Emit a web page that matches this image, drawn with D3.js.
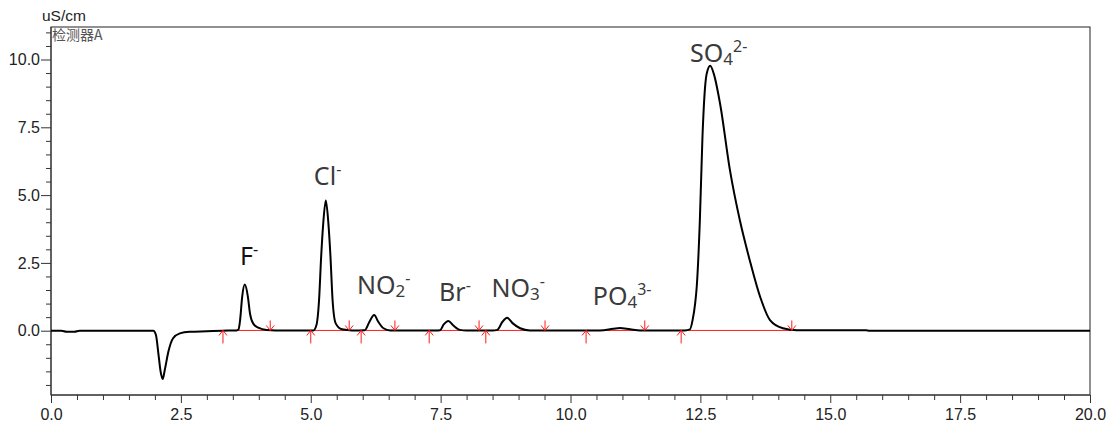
<!DOCTYPE html>
<html>
<head>
<meta charset="utf-8">
<script src="https://cdn.jsdelivr.net/npm/d3@7"></script>
<style>
  body { margin: 0; background: #fff; }
  svg { display: block; }
  .axis text { font-family: "Liberation Sans", Arial, sans-serif; font-size: 16px; fill: #222; }
  .axis path, .axis line { stroke: #333; }
</style>
</head>
<body>
<div id="chart"></div>
<script>
// chromatogram trace (time in min, signal in uS/cm)
const time = [0.0, 0.2, 0.3, 0.45, 0.55, 1.0, 1.97, 2.02, 2.07, 2.11, 2.15, 2.19, 2.26, 2.35, 2.48, 2.67, 3.0, 3.3,
  3.57, 3.61, 3.64, 3.68, 3.73, 3.79, 3.83, 3.89, 3.99, 4.15, 4.5,
  5.05, 5.11, 5.16, 5.20, 5.24, 5.29, 5.34, 5.38, 5.42, 5.48, 5.60, 5.80,
  6.04, 6.13, 6.22, 6.30, 6.40, 6.53,
  7.40, 7.49, 7.56, 7.65, 7.74, 7.87, 8.00,
  8.50, 8.59, 8.69, 8.78, 8.89, 9.03, 9.22,
  10.57, 10.82, 10.95, 11.15, 11.34,
  12.20, 12.30, 12.35, 12.40, 12.43, 12.49, 12.54, 12.59, 12.62, 12.69, 12.76, 12.88, 13.07, 13.26, 13.45, 13.65, 13.84, 14.09, 14.36,
  15.69, 15.75, 20.0];
const signal = [0, 0, -0.04, -0.04, 0, 0, 0, -0.16, -0.89, -1.51, -1.78, -1.45, -0.77, -0.28, -0.10, -0.04, -0.02, 0,
  0.01, 0.05, 0.39, 1.25, 1.70, 1.25, 0.64, 0.27, 0.11, 0.03, 0.01,
  0.01, 0.21, 1.13, 2.72, 3.95, 4.80, 3.95, 2.72, 1.13, 0.27, 0.05, 0.01,
  0.02, 0.33, 0.58, 0.33, 0.09, 0.01,
  0.01, 0.02, 0.23, 0.36, 0.20, 0.03, 0.01,
  0.01, 0.03, 0.33, 0.48, 0.27, 0.09, 0.01,
  0.01, 0.07, 0.10, 0.05, 0.01,
  0.01, 0.05, 0.39, 1.02, 1.62, 4.07, 7.13, 8.97, 9.46, 9.77, 9.46, 8.36, 5.91, 4.07, 2.60, 1.25, 0.39, 0.09, 0.02,
  0.02, 0, 0];

// integration start / end marks
const peakStart = [3.31, 5.00, 5.97, 7.28, 8.37, 10.30, 12.13];
const peakEnd   = [4.22, 5.74, 6.62, 8.24, 9.51, 11.43, 14.26];

// ion labels: main text, subscript, superscript, anchor (time, signal)
const ionMain = ["F", "Cl", "NO", "Br", "NO", "PO", "SO"];
const ionSub  = ["", "", "2", "", "3", "4", "4"];
const ionSup  = ["-", "-", "-", "-", "-", "3-", "2-"];
const labelT  = [3.64, 5.06, 5.89, 7.47, 8.48, 10.43, 12.30];
const labelV  = [2.42, 5.39, 1.35, 1.10, 1.23, 0.95, 9.92];

const xMajor = [0, 2.5, 5, 7.5, 10, 12.5, 15, 17.5, 20];
const yMajor = [0, 2.5, 5, 7.5, 10];

const W = 1109, H = 423;
const mLeft = 51, mRight = 1090, mTop = 27, mBottom = 395;

const svg = d3.select('#chart').append('svg')
  .attr('width', W).attr('height', H);

const x = d3.scaleLinear().domain([0, 20]).range([mLeft, mRight]);
const y = d3.scaleLinear().domain([0, 10]).range([330.7, 59.5]);

svg.append('clipPath').attr('id', 'plot')
  .append('rect').attr('x', mLeft).attr('y', mTop).attr('width', mRight - mLeft).attr('height', mBottom - mTop);

// frame
svg.append('rect')
  .attr('x', mLeft).attr('y', mTop).attr('width', mRight - mLeft).attr('height', mBottom - mTop)
  .attr('fill', 'none').attr('stroke', '#222').attr('stroke-width', 1);

// minor ticks
const xMinor = d3.range(0, 20.001, 0.5).filter(d => xMajor.indexOf(d) < 0);
const yMinor = d3.range(-2, 11.01, 0.5).filter(d => yMajor.indexOf(d) < 0);

svg.append('g').attr('class', 'axis').attr('transform', `translate(0,${mBottom})`)
  .call(d3.axisBottom(x).tickValues(xMinor).tickSize(5).tickSizeOuter(0).tickFormat(''));
svg.append('g').attr('class', 'axis').attr('transform', `translate(0,${mBottom})`)
  .call(d3.axisBottom(x).tickValues(xMajor).tickSize(8).tickSizeOuter(0).tickPadding(6).tickFormat(d3.format('.1f')));

svg.append('g').attr('class', 'axis').attr('transform', `translate(${mLeft},0)`)
  .call(d3.axisLeft(y).tickValues(yMinor).tickSize(5).tickSizeOuter(0).tickFormat(''));
svg.append('g').attr('class', 'axis').attr('transform', `translate(${mLeft},0)`)
  .call(d3.axisLeft(y).tickValues(yMajor).tickSize(10).tickSizeOuter(0).tickPadding(1).tickFormat(d3.format('.1f')));

svg.selectAll('.axis .domain').remove();
svg.append('line').attr('x1', mLeft).attr('x2', mLeft).attr('y1', mTop).attr('y2', mBottom).attr('stroke', '#333');
svg.append('line').attr('x1', mLeft).attr('x2', mRight).attr('y1', mBottom).attr('y2', mBottom).attr('stroke', '#333');

// unit + detector names
svg.append('text').attr('x', 42).attr('y', 21)
  .style('font-family', '"Liberation Sans", Arial, sans-serif').style('font-size', '15.5px').attr('fill', '#222')
  .text('uS/cm');
svg.append('text').attr('x', 52).attr('y', 40)
  .style('font-family', '"Noto Sans CJK SC", sans-serif').style('font-size', '14px').attr('fill', '#555')
  .text('检测器A');

const g = svg.append('g').attr('clip-path', 'url(#plot)');

// integration baselines
const red = '#ff1a1a';
g.selectAll('.base').data(peakStart).enter().append('line')
  .attr('x1', d => x(d)).attr('x2', (d, i) => x(peakEnd[i]))
  .attr('y1', y(0.01)).attr('y2', y(0.01))
  .attr('stroke', red).attr('stroke-width', 1);

// trace
const pts = time.map((t, i) => [t, signal[i]]);
const line = d3.line().x(d => x(d[0])).y(d => y(d[1])).curve(d3.curveMonotoneX);
g.append('path').datum(pts).attr('d', line)
  .attr('fill', 'none').attr('stroke', '#000').attr('stroke-width', 2).attr('stroke-linejoin', 'round');

// start arrows (pointing up, below baseline)
const y0 = y(0.01);
g.selectAll('.up').data(peakStart).enter().append('path')
  .attr('d', d => `M${x(d)},${y0 + 13}V${y0}M${x(d) - 4},${y0 + 5}L${x(d)},${y0}L${x(d) + 4},${y0 + 5}`)
  .attr('fill', 'none').attr('stroke', red).attr('stroke-width', 1);
// end arrows (pointing down, above baseline)
g.selectAll('.down').data(peakEnd).enter().append('path')
  .attr('d', d => `M${x(d)},${y0 - 10}V${y0}M${x(d) - 4},${y0 - 5}L${x(d)},${y0}L${x(d) + 4},${y0 - 5}`)
  .attr('fill', 'none').attr('stroke', red).attr('stroke-width', 1);

// ion labels
ionMain.forEach((m, i) => {
  const t = svg.append('text')
    .attr('x', x(labelT[i])).attr('y', y(labelV[i]))
    .style('font-family', '"Noto Sans", sans-serif')
    .attr('fill', i === 0 ? '#111' : '#3a3a3a');
  t.append('tspan').style('font-size', '25px').text(m);
  let shift = 0;
  if (ionSub[i]) {
    t.append('tspan').style('font-size', '17px').attr('dy', 3).text(ionSub[i]);
    shift = 3;
  }
  t.append('tspan').style('font-size', '16px').attr('dy', -10 - shift).text(ionSup[i]);
});
</script>
</body>
</html>
